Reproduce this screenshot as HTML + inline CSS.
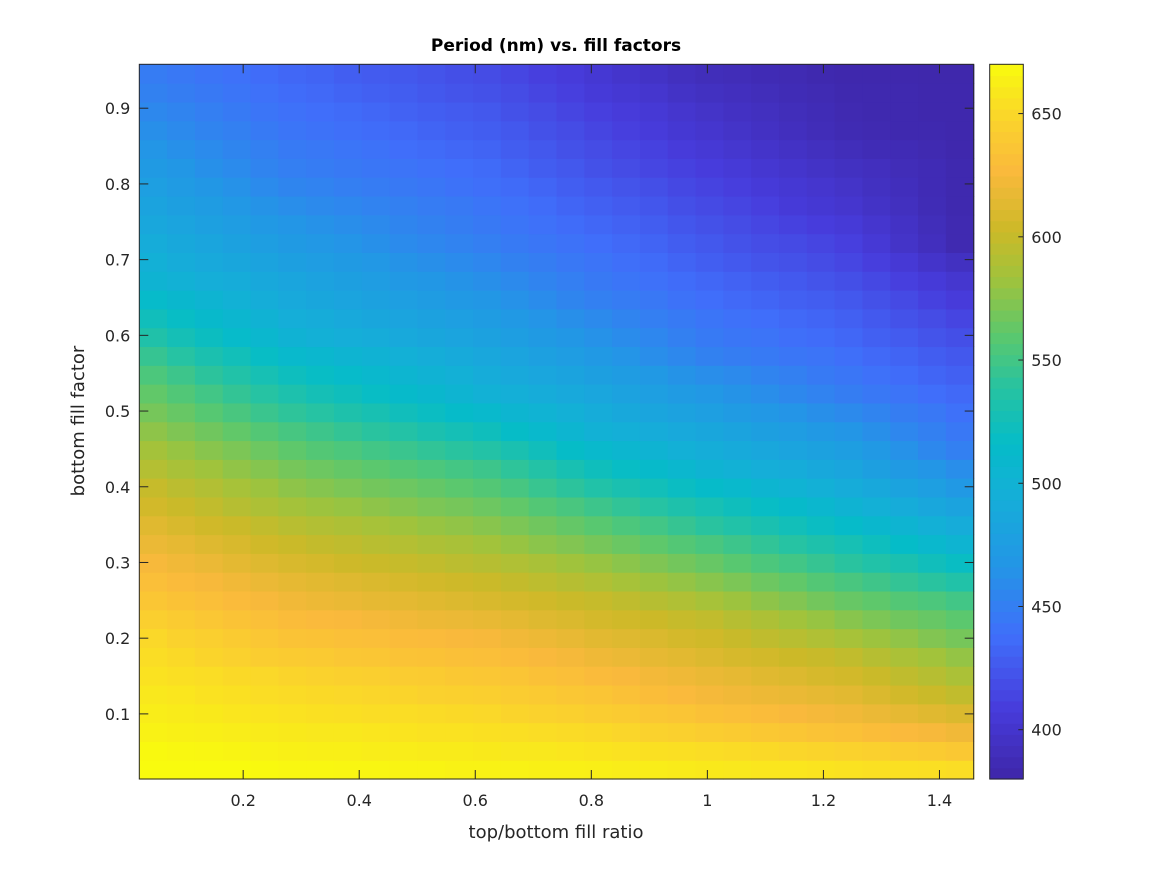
<!DOCTYPE html>
<html><head><meta charset="utf-8"><style>
html,body{margin:0;padding:0;background:#fff;}
svg{display:block;font-family:"DejaVu Sans","Liberation Sans",sans-serif;}
</style></head><body>
<svg id="chart" width="1167" height="875" viewBox="0 0 1167 875" xmlns="http://www.w3.org/2000/svg">
<rect x="0" y="0" width="1167" height="875" fill="#ffffff"/>
<g id="cells"></g>
<g id="cbar"></g>
<g id="axes"></g>
<text x="556" y="51" text-anchor="middle" font-size="17" font-weight="bold" fill="#000">Period (nm) vs. fill factors</text>
<text x="556" y="838" text-anchor="middle" font-size="18" fill="#262626">top/bottom fill ratio</text>
<text transform="translate(84,421) rotate(-90)" text-anchor="middle" font-size="18" fill="#262626">bottom fill factor</text>
</svg>
<script>
const xLim = [0.021, 1.459];
const yLim = [0.014, 0.958];
const cLim = [380, 670];
const xTicks = [0.2, 0.4, 0.6, 0.8, 1, 1.2, 1.4];
const xTickLabels = ["0.2","0.4","0.6","0.8","1","1.2","1.4"];
const yTicks = [0.1,0.2,0.3,0.4,0.5,0.6,0.7,0.8,0.9];
const yTickLabels = ["0.1","0.2","0.3","0.4","0.5","0.6","0.7","0.8","0.9"];
const cTicks = [400,450,500,550,600,650];
const cTickLabels = ["400","450","500","550","600","650"];
const z = [
[672,671,670,670,669,668,668,667,667,666,666,665,665,665,664,664,663,662,662,661,660,659,658,658,657,656,655,655,654,653],
[669,668,667,666,665,664,663,663,662,662,661,661,660,659,659,658,657,656,655,654,653,652,651,649,648,647,645,643,641,639],
[665,664,663,662,661,660,659,659,658,657,656,656,655,654,653,652,651,649,647,645,643,641,639,637,635,633,630,627,625,622],
[662,661,660,658,657,656,655,654,653,653,652,651,650,648,647,645,643,641,638,636,633,631,629,626,624,622,619,616,613,610],
[659,658,656,655,653,652,651,650,649,648,646,645,644,642,640,638,636,633,630,627,624,622,620,618,616,614,610,606,602,598],
[656,654,653,651,650,648,647,645,644,642,641,639,638,636,633,631,628,626,623,621,618,616,613,611,608,606,602,597,593,588],
[653,651,648,646,643,641,640,638,637,635,634,632,631,629,626,624,621,619,616,614,611,608,606,603,601,598,593,588,584,579],
[650,647,644,641,638,635,634,632,631,629,628,626,625,622,620,617,614,612,610,607,605,601,597,594,590,586,582,578,573,569],
[644,641,638,635,632,629,627,626,624,622,620,619,617,615,612,610,607,605,603,600,598,593,589,584,580,575,571,567,564,560],
[637,634,631,628,625,622,620,618,616,615,613,611,609,607,605,602,600,597,593,590,586,582,577,573,568,564,561,557,554,550],
[631,628,625,622,619,616,614,612,610,608,606,604,602,599,596,593,590,586,582,579,575,571,566,562,557,553,549,544,540,535],
[625,622,619,615,612,609,607,604,602,600,598,595,593,590,587,583,580,576,572,568,564,559,554,550,545,540,535,530,524,519],
[619,616,612,609,605,602,599,597,594,592,589,587,584,580,576,573,569,565,561,557,553,548,543,538,533,528,522,516,510,504],
[613,609,605,602,598,594,591,589,586,583,580,578,575,571,567,563,559,554,550,545,540,535,530,525,520,515,509,504,498,492],
[606,602,598,593,589,585,582,580,577,574,571,569,566,562,557,553,548,543,538,533,528,523,518,513,508,503,498,492,487,482],
[600,595,591,586,582,577,574,571,568,566,563,560,557,552,546,541,535,530,525,520,515,511,506,502,497,493,488,482,477,471],
[592,587,583,578,574,569,566,563,560,557,554,551,548,542,536,529,523,518,513,508,503,499,495,492,488,484,478,472,467,461],
[585,580,575,571,566,561,557,554,550,547,543,540,536,530,524,517,511,507,503,498,494,490,487,483,480,476,470,464,457,451],
[577,572,567,562,557,552,548,544,540,536,531,527,523,517,511,505,499,496,493,489,486,482,478,475,471,467,462,456,451,445],
[569,564,558,553,547,542,538,533,529,524,520,515,511,506,502,497,492,488,484,481,477,473,469,466,462,458,454,449,445,440],
[562,556,550,544,538,532,527,523,518,513,509,504,499,496,492,489,485,481,477,473,469,465,461,457,453,449,445,442,438,435],
[554,548,541,535,528,522,518,514,510,505,501,497,493,489,485,482,478,474,470,465,461,458,454,451,447,444,440,437,433,430],
[545,538,531,525,518,511,508,504,501,497,494,490,487,483,479,475,471,466,461,457,452,449,447,444,442,439,435,432,428,425],
[534,527,521,514,508,501,498,495,492,489,486,483,480,476,472,468,464,460,456,451,447,444,442,439,437,434,430,427,423,420],
[524,518,512,507,501,495,492,489,486,483,480,477,474,470,466,462,458,454,450,447,443,440,438,435,433,430,426,422,418,414],
[514,509,504,499,494,489,486,483,480,477,474,471,468,464,460,455,451,448,445,441,438,435,433,430,428,425,421,417,412,408],
[503,499,495,492,488,484,481,478,475,471,468,465,462,458,454,450,446,443,440,437,434,431,428,426,423,420,416,411,407,402],
[497,493,489,486,482,478,475,472,469,465,462,459,456,452,449,445,442,439,436,432,429,426,423,421,418,415,410,405,399,394],
[492,488,484,480,476,472,469,466,463,459,456,453,450,447,444,441,438,435,432,428,425,422,419,417,414,411,405,398,392,385],
[487,483,479,475,471,467,464,461,458,455,452,449,446,443,440,437,434,431,428,424,421,418,415,412,409,406,401,396,390,385],
[482,478,474,469,465,461,458,456,453,451,448,446,443,440,437,433,430,427,424,420,417,414,411,407,404,401,397,393,388,384],
[477,473,468,464,459,455,453,450,448,446,444,441,439,436,433,429,426,423,420,416,413,410,407,404,401,398,394,391,387,384],
[472,468,463,459,454,450,448,446,444,442,440,438,436,432,428,425,421,418,415,412,409,406,403,400,397,394,392,389,387,384],
[467,463,459,455,451,447,445,443,441,438,436,434,432,428,425,421,418,415,412,408,405,402,399,396,393,390,388,387,385,383],
[462,458,454,451,447,443,441,439,437,435,432,430,428,425,421,418,414,411,408,404,401,398,395,392,389,386,385,384,384,383],
[457,454,450,447,443,440,438,436,434,431,429,427,425,421,418,414,411,408,405,401,398,395,393,390,388,385,384,384,383,383],
[452,449,446,443,440,437,435,432,430,428,425,423,421,418,414,411,407,404,401,397,394,392,390,388,386,384,384,384,383,383],
[448,445,442,440,437,434,432,429,427,425,423,420,418,415,411,408,404,400,397,393,390,389,387,386,384,383,383,383,382,382]
];

const NS = "http://www.w3.org/2000/svg";
const PX0 = 139.3, PX1 = 973.7, PY0 = 64.3, PY1 = 779;
const CBX0 = 989.7, CBX1 = 1023.3;
function xs(v){ return PX0 + (v - xLim[0]) / (xLim[1] - xLim[0]) * (PX1 - PX0); }
function ys(v){ return PY1 - (v - yLim[0]) / (yLim[1] - yLim[0]) * (PY1 - PY0); }
function cs(v){ return PY1 - (v - cLim[0]) / (cLim[1] - cLim[0]) * (PY1 - PY0); }
const stops = [
[0.00,62,38,168],[0.10,71,60,220],[0.20,64,110,250],[0.30,35,150,230],
[0.40,20,175,215],[0.47,5,188,200],[0.55,40,195,160],[0.62,90,200,110],
[0.70,160,195,60],[0.77,205,185,40],[0.85,250,185,60],[0.92,250,210,45],[1.00,249,251,14]];
function color(v){
  let t = (v - cLim[0]) / (cLim[1] - cLim[0]);
  t = Math.max(0, Math.min(1, t));
  for (let i = 1; i < stops.length; i++) {
    if (t <= stops[i][0]) {
      const a = stops[i-1], b = stops[i];
      const f = (t - a[0]) / (b[0] - a[0]);
      const r = Math.round(a[1] + f*(b[1]-a[1])), g = Math.round(a[2] + f*(b[2]-a[2])), bl = Math.round(a[3] + f*(b[3]-a[3]));
      return `rgb(${r},${g},${bl})`;
    }
  }
  return "rgb(249,251,14)";
}
function mk(tag, attrs, parent){
  const e = document.createElementNS(NS, tag);
  for (const k in attrs) e.setAttribute(k, attrs[k]);
  parent.appendChild(e);
  return e;
}
const cells = document.getElementById("cells");
const nRows = z.length, nCols = z[0].length;
const dx = (xLim[1]-xLim[0]) / nCols, dy = (yLim[1]-yLim[0]) / nRows;
for (let r = 0; r < nRows; r++) {
  for (let c = 0; c < nCols; c++) {
    const x0 = xs(xLim[0] + c*dx), x1 = xs(xLim[0] + (c+1)*dx);
    const y1 = ys(yLim[0] + r*dy), y0 = ys(yLim[0] + (r+1)*dy);
    const rc = mk("rect", {x: x0.toFixed(2), y: y0.toFixed(2), width: (x1-x0+0.6).toFixed(2), height: (y1-y0+0.6).toFixed(2), fill: color(z[r][c])}, cells);
    
    
  }
}
const cbar = document.getElementById("cbar");
const nSteps = 64;
for (let i = 0; i < nSteps; i++) {
  const v0 = cLim[0] + i*(cLim[1]-cLim[0])/nSteps, v1 = cLim[0] + (i+1)*(cLim[1]-cLim[0])/nSteps;
  const s = mk("rect", {x: CBX0, y: cs(v1).toFixed(2), width: CBX1-CBX0, height: (cs(v0)-cs(v1)+0.6).toFixed(2), fill: color((v0+v1)/2)}, cbar);
  
  
}
const cbBox = mk("rect", {x: CBX0, y: PY0, width: CBX1-CBX0, height: PY1-PY0, fill: "none", stroke: "#262626", "stroke-width": 1}, cbar);


cTicks.forEach((v, i) => {
  const y = cs(v);
  const tk = mk("line", {x1: CBX1-5, x2: CBX1, y1: y, y2: y, stroke: "#262626", "stroke-width": 1}, cbar);
  
  
  const tx = mk("text", {x: CBX1+8, y: y+6, "font-size": 16, fill: "#262626"}, cbar);
  tx.textContent = cTickLabels[i];
  
  
});
const axes = document.getElementById("axes");
const box = mk("rect", {x: PX0, y: PY0, width: PX1-PX0, height: PY1-PY0, fill: "none", stroke: "#262626", "stroke-width": 1}, axes);


xTicks.forEach((v, i) => {
  const x = xs(v);
  const t1 = mk("line", {x1: x, x2: x, y1: PY1, y2: PY1-9, stroke: "#262626"}, axes);
  
  
  const t2 = mk("line", {x1: x, x2: x, y1: PY0, y2: PY0+9, stroke: "#262626"}, axes);
  
  
  const tx = mk("text", {x: x, y: PY1+27, "text-anchor": "middle", "font-size": 16, fill: "#262626"}, axes);
  tx.textContent = xTickLabels[i];
  
  
});
yTicks.forEach((v, i) => {
  const y = ys(v);
  const t1 = mk("line", {x1: PX0, x2: PX0+9, y1: y, y2: y, stroke: "#262626"}, axes);
  
  
  const t2 = mk("line", {x1: PX1, x2: PX1-9, y1: y, y2: y, stroke: "#262626"}, axes);
  
  
  const tx = mk("text", {x: PX0-9, y: y+6, "text-anchor": "end", "font-size": 16, fill: "#262626"}, axes);
  tx.textContent = yTickLabels[i];
  
  
});
</script>
</body></html>
